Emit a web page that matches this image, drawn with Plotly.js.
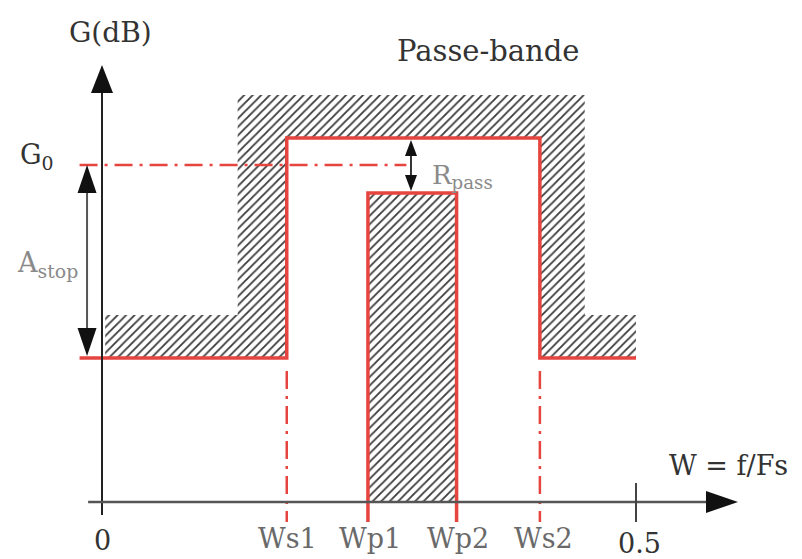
<!DOCTYPE html>
<html><head><meta charset="utf-8">
<script src="https://cdn.plot.ly/plotly-3.0.1.min.js"></script>
<style>html,body{margin:0;padding:0;background:#fff}#chart{width:802px;height:559px}</style>
</head><body><div id="chart"></div>
<script>
// ---- Data (normalised frequency W = f/Fs, gain in arbitrary dB units) ----
const freqLabels = ['0', 'Ws1', 'Wp1', 'Wp2', 'Ws2', '0.5'];
const freqValues = [0, 0.173, 0.249, 0.332, 0.410, 0.5];
const levelNames = ['G_stop', 'G0', 'G_pass_max', 'G_pass_min'];
const levelValues = [14.4, 33.7, 36.4, 30.9];
// forbidden (hatched) zone above the stop bands / around the pass band
const maskX = [0.003, 0.127, 0.452, 0.5];
const maskY = [18.7, 40.7];

const [F0, Ws1, Wp1, Wp2, Ws2, Fend] = freqValues;
const [gStop, g0, gMax, gMin] = levelValues;

const RED = '#e5443f';
const FONT = 'DejaVu Serif';
const xLeft = -0.021, yLow = -2.0;

const hatch = {shape: '/', size: 6, solidity: 0.3, fgcolor: '#3a3a3a', bgcolor: '#ffffff'};

const traces = [
  { // stop-band mask (hatched)
    x: [maskX[0], maskX[1], maskX[1], maskX[2], maskX[2], maskX[3], maskX[3], Ws2, Ws2, Ws1, Ws1, maskX[0]],
    y: [maskY[0], maskY[0], maskY[1], maskY[1], maskY[0], maskY[0], gStop, gStop, gMax, gMax, gStop, gStop],
    mode: 'lines', fill: 'toself', line: {width: 0}, fillcolor: 'rgba(0,0,0,0)', fillpattern: hatch, hoverinfo: 'skip'
  },
  { // pass-band mask (hatched)
    x: [Wp1, Wp1, Wp2, Wp2], y: [0, gMin, gMin, 0],
    mode: 'lines', fill: 'toself', line: {width: 0}, fillcolor: 'rgba(0,0,0,0)', fillpattern: hatch, hoverinfo: 'skip'
  },
  { // stop-band template
    x: [xLeft, Ws1, Ws1, Ws2, Ws2, Fend], y: [gStop, gStop, gMax, gMax, gStop, gStop],
    mode: 'lines', line: {color: RED, width: 3.5}
  },
  { // pass-band template
    x: [Wp1, Wp1, Wp2, Wp2], y: [yLow, gMin, gMin, yLow],
    mode: 'lines', line: {color: RED, width: 3.5}
  },
  { // G0 reference
    x: [xLeft, 0.285], y: [g0, g0],
    mode: 'lines', line: {color: RED, width: 2.5, dash: '18px,7px,3px,7px'}
  },
  { // Ws1 / Ws2 markers
    x: [Ws1, Ws1, null, Ws2, Ws2], y: [gStop - 1.3, yLow, null, gStop - 1.3, yLow],
    mode: 'lines', line: {color: RED, width: 2.5, dash: '18px,7px,3px,7px'}
  }
];

function head(x, y, dir, w, h, color) {
  let p;
  if (dir === 'up') p = `M 0 0 L ${-w/2} ${-h} L ${w/2} ${-h} Z`;
  else if (dir === 'down') p = `M 0 0 L ${-w/2} ${h} L ${w/2} ${h} Z`;
  else p = `M 0 0 L ${-h} ${w/2} L ${-h} ${-w/2} Z`;
  return {type: 'path', xref: 'x', yref: 'y', xsizemode: 'pixel', ysizemode: 'pixel',
          xanchor: x, yanchor: y, path: p, fillcolor: color, line: {width: 0}, layer: 'above'};
}
function seg(x0, y0, x1, y1, color, width) {
  return {type: 'line', xref: 'x', yref: 'y', x0, y0, x1, y1, line: {color, width}, layer: 'above'};
}

const yTip = 43.7, xTip = 0.5955, aStopX = -0.014, rPassX = 0.2893;
const shapes = [
  seg(0, -1.3, 0, yTip - 2.5, '#222', 2),
  head(0, yTip, 'up', 22, 28, '#111'),
  seg(-0.013, 0, xTip - 0.028, 0, '#555', 2.5),
  head(xTip, 0, 'right', 22, 32, '#111'),
  seg(Fend, 1.9, Fend, -2.0, '#444', 2),
  // A_stop double arrow
  seg(aStopX, g0 - 2, aStopX, gStop + 2, '#555', 2),
  head(aStopX, g0, 'up', 19, 28, '#111'),
  head(aStopX, gStop + 0.2, 'down', 19, 28, '#111'),
  // R_pass double arrow
  seg(rPassX, gMax - 1, rPassX, gMin + 1, '#333', 2),
  head(rPassX, gMax - 0.2, 'up', 12, 16, '#111'),
  head(rPassX, gMin + 0.2, 'down', 12, 16, '#111')
];

const labelOffsets = [0, 0.001, 0.002, 0.001, 0.003, 0.003];
const labelColors = ['#333', '#6a6a6a', '#6a6a6a', '#6a6a6a', '#6a6a6a', '#333'];
const labelY = [-3.8, -3.6, -3.6, -3.6, -3.6, -4.1];
const annotations = freqLabels.map((t, i) => ({
  x: freqValues[i] + labelOffsets[i], y: labelY[i], xref: 'x', yref: 'y', text: t, showarrow: false,
  font: {family: FONT, size: 27, color: labelColors[i]}, xanchor: 'center', yanchor: 'middle'
}));
annotations.push(
  {x: 0.0084, y: 47.0, text: 'G(dB)', font: {family: FONT, size: 28, color: '#333'}},
  {x: -0.061, y: 34.6, text: 'G<sub>0</sub>', font: {family: FONT, size: 27, color: '#333'}},
  {x: 0.361, y: 45.1, text: 'Passe-bande', font: {family: FONT, size: 29, color: '#333'}},
  {x: -0.0506, y: 23.8, text: 'A<sub>stop</sub>', font: {family: FONT, size: 27, color: '#8a8a8a'}},
  {x: 0.338, y: 32.6, text: 'R<sub>pass</sub>', font: {family: FONT, size: 26, color: '#8a8a8a'}},
  {x: 0.587, y: 3.7, text: 'W = f/Fs', font: {family: FONT, size: 27, color: '#333'}}
);
annotations.forEach(a => { a.xref = 'x'; a.yref = 'y'; a.showarrow = false; a.xanchor = a.xanchor || 'center'; a.yanchor = a.yanchor || 'middle'; });

const layout = {
  width: 802, height: 559,
  margin: {l: 0, r: 0, t: 0, b: 0},
  paper_bgcolor: '#fff', plot_bgcolor: '#fff',
  showlegend: false,
  xaxis: {range: [-102 / 1068, 700 / 1068], visible: false, fixedrange: true},
  yaxis: {range: [-5.7, 50.2], visible: false, fixedrange: true},
  shapes, annotations
};
Plotly.newPlot('chart', traces, layout, {displayModeBar: false, staticPlot: true});
</script></body></html>
